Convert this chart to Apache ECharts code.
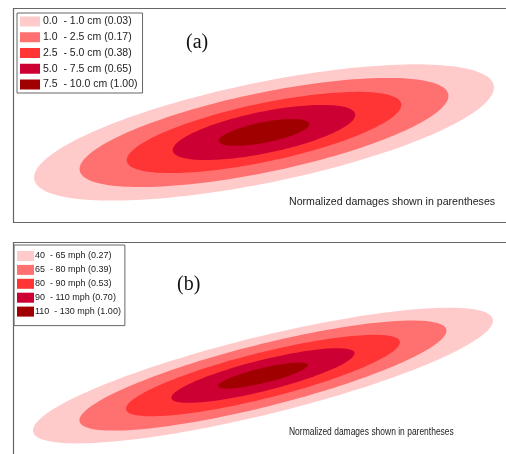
<!DOCTYPE html>
<html>
<head>
<meta charset="utf-8">
<script src="https://cdn.jsdelivr.net/npm/echarts@6/dist/echarts.min.js"></script>
<style>
html,body{margin:0;padding:0;background:#fff;}
#chart{width:506px;height:454px;}
</style>
</head>
<body>
<div id="chart"></div>
<script>
// ---- Data (abstract map units) ----
const levelsA = ['0.0  - 1.0 cm (0.03)', '1.0  - 2.5 cm (0.17)', '2.5  - 5.0 cm (0.38)', '5.0  - 7.5 cm (0.65)', '7.5  - 10.0 cm (1.00)'];
const levelsB = ['40  - 65 mph (0.27)', '65  - 80 mph (0.39)', '80  - 90 mph (0.53)', '90  - 110 mph (0.70)', '110  - 130 mph (1.00)'];
const levelColors = ['#FFCACA', '#FF7070', '#FF3535', '#CC0033', '#A00000'];

const centerA = [117.1, 41.75];
const semiMajorA = [109.4, 87.8, 65.4, 43.4, 21.5];
const semiMinorA = [23.4, 18.5, 13.6, 9.7, 4.8];
const tiltA = [11.6, 11.75, 11.9, 11.5, 11.0];

const centerB = [116.6, 36.6];
const semiMajorB = [110.4, 88.2, 65.8, 44.0, 21.5];
const semiMinorB = [18.1, 14.5, 10.7, 7.2, 3.5];
const tiltB = [13.8, 14.1, 14.0, 14.0, 13.5];

const panelLabels = ['(a)', '(b)'];
const noteText = 'Normalized damages shown in parentheses';

// ---- Rendering ----
function renderEllipse(params, api) {
  const cx = api.value(0), cy = api.value(1), a = api.value(2), b = api.value(3);
  const th = api.value(4) * Math.PI / 180;
  const pts = [];
  const N = 160;
  for (let i = 0; i < N; i++) {
    const t = 2 * Math.PI * i / N;
    const x = cx + a * Math.cos(t) * Math.cos(th) - b * Math.sin(t) * Math.sin(th);
    const y = cy + a * Math.cos(t) * Math.sin(th) + b * Math.sin(t) * Math.cos(th);
    pts.push(api.coord([x, y]));
  }
  return { type: 'polygon', shape: { points: pts }, style: { fill: api.visual('color') } };
}

function makeSeries(names, center, major, minor, tilt, gridIdx) {
  return names.map((n, i) => ({
    type: 'custom',
    name: n,
    xAxisIndex: gridIdx,
    yAxisIndex: gridIdx,
    itemStyle: { color: levelColors[i] },
    renderItem: renderEllipse,
    silent: true,
    animation: false,
    data: [[center[0], center[1], major[i], minor[i], tilt[i]]]
  }));
}

const chart = echarts.init(document.getElementById('chart'), null, { renderer: 'canvas' });
const sans = "'Liberation Sans', Arial, sans-serif";
const serif = "'Liberation Serif', 'Times New Roman', serif";

chart.setOption({
  animation: false,
  backgroundColor: '#fff',
  grid: [
    { left: 13, top: 8, width: 493, height: 214 },
    { left: 13, top: 242, width: 493, height: 212 }
  ],
  xAxis: [
    { gridIndex: 0, type: 'value', min: 0, max: 230, show: false },
    { gridIndex: 1, type: 'value', min: 0, max: 230, show: false }
  ],
  yAxis: [
    { gridIndex: 0, type: 'value', min: 0, max: 99.8, show: false },
    { gridIndex: 1, type: 'value', min: 0, max: 98.9, show: false }
  ],
  legend: [
    {
      data: levelsA, orient: 'vertical', left: 17, top: 13,
      itemWidth: 20, itemHeight: 10, itemGap: 4.75, icon: 'rect',
      padding: [3, 5, 3, 3], borderColor: '#666', borderWidth: 1, backgroundColor: '#fff',
      selectedMode: false,
      textStyle: { fontSize: 10.5, fontFamily: sans, color: '#222', lineHeight: 10, padding: [0, 0, 0, -2] }
    },
    {
      data: levelsB, orient: 'vertical', left: 14, top: 245,
      itemWidth: 17, itemHeight: 10, itemGap: 3.9, icon: 'rect',
      padding: [6, 4, 9, 3], borderColor: '#666', borderWidth: 1, backgroundColor: '#fff',
      selectedMode: false,
      textStyle: { fontSize: 9, fontFamily: sans, color: '#222', lineHeight: 10, padding: [0, 0, 0, -4] }
    }
  ],
  graphic: [
    { type: 'polyline', z: 100, silent: true, shape: { points: [[506, 8.5], [13.5, 8.5], [13.5, 222.5], [506, 222.5]] }, style: { stroke: '#666', lineWidth: 1.2, fill: null } },
    { type: 'polyline', z: 100, silent: true, shape: { points: [[506, 242.5], [13.5, 242.5], [13.5, 454]] }, style: { stroke: '#666', lineWidth: 1.2, fill: null } },
    { type: 'text', left: 186, top: 33, style: { text: panelLabels[0], font: '20px ' + serif, fill: '#111' } },
    { type: 'text', left: 177, top: 275, style: { text: panelLabels[1], font: '20px ' + serif, fill: '#111' } },
    { type: 'text', left: 289, top: 197, style: { text: noteText, font: '10.6px ' + sans, fill: '#222' } },
    { type: 'text', x: 289, y: 426, scaleX: 0.77, style: { text: noteText, font: '11px ' + sans, fill: '#222', x: 0, y: 0 } }
  ],
  series: [].concat(
    makeSeries(levelsA, centerA, semiMajorA, semiMinorA, tiltA, 0),
    makeSeries(levelsB, centerB, semiMajorB, semiMinorB, tiltB, 1)
  )
});
</script>
</body>
</html>
